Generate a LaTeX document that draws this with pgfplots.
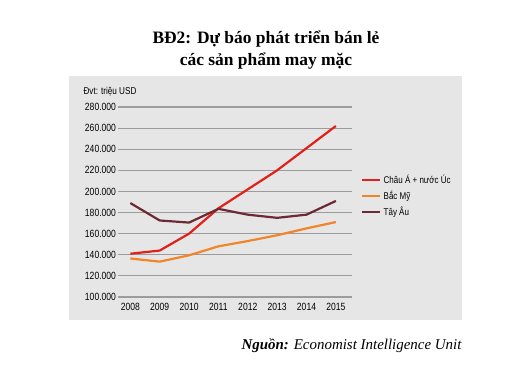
\documentclass[border=0pt]{standalone}
\usepackage{pgfplots}
\pgfplotsset{compat=1.18}
\usepackage{fontspec}
\setmainfont{Liberation Serif}
\newfontfamily\condfont[FakeStretch=0.82]{Liberation Sans}
\definecolor{cred}{HTML}{E0201B}
\definecolor{corange}{HTML}{F0852A}
\definecolor{cmaroon}{HTML}{6E2A34}
\definecolor{panel}{HTML}{E6E6E6}
\definecolor{gridc}{HTML}{9C9C9C}
\begin{document}
\begin{tikzpicture}[x=1bp,y=1bp]
\useasboundingbox (0,0) rectangle (530,371);
\fill[white] (0,0) rectangle (530,371);
\fill[panel] (69,51) rectangle (462,295);
\node[font=\bfseries\fontsize{17.5}{22}\selectfont, align=center] at (266,321) {BĐ2: Dự báo phát triển bán lẻ\\các sản phẩm may mặc};
\node[anchor=base east, font=\fontsize{15}{17}\selectfont\itshape] at (465,22) {\textbf{Nguồn:} Economist Intelligence Unit};
\node[anchor=west, font=\condfont\fontsize{10}{11}\selectfont] at (80,279) {Đvt: triệu USD};
\begin{axis}[
  at={(118bp,74bp)}, anchor=south west,
  scale only axis, width=234bp, height=190bp,
  xmin=-0.42, xmax=7.55, ymin=100, ymax=280,
  xtick={0,...,7}, xticklabels={2008,2009,2010,2011,2012,2013,2014,2015},
  ytick={100,120,...,280},
  yticklabels={100.000,120.000,140.000,160.000,180.000,200.000,220.000,240.000,260.000,280.000},
  ymajorgrids, grid style={gridc, line width=1.1bp},
  axis line style={draw=none}, major tick length=0pt,
  tick label style={font=\condfont\fontsize{10.5}{11}\selectfont},
  xticklabel style={yshift=-3bp},
  yticklabel style={xshift=1.5bp},
  legend style={at={(1.026,0.665)}, anchor=north west, draw=none, fill=none,
    font=\condfont\fontsize{9.8}{10}\selectfont, row sep=2bp, cells={anchor=west}},
  legend image code/.code={\draw[#1, line width=2.4bp] (0bp,0bp) -- (18bp,0bp);},
  every axis plot/.append style={line width=2.2bp, line join=round},
]
\addplot[cred] coordinates {(0,141)(1,144)(2,160)(3,184)(4,202)(5,220)(6,241)(7,262)};
\addplot[corange] coordinates {(0,136.5)(1,133.5)(2,139.5)(3,148)(4,153)(5,158.5)(6,165)(7,171)};
\addplot[cmaroon] coordinates {(0,189)(1,172.5)(2,170.5)(3,183.5)(4,178)(5,175)(6,178)(7,191)};
\legend{Châu Á + nước Úc, Bắc Mỹ, Tây Âu}
\end{axis}
\end{tikzpicture}
\end{document}
